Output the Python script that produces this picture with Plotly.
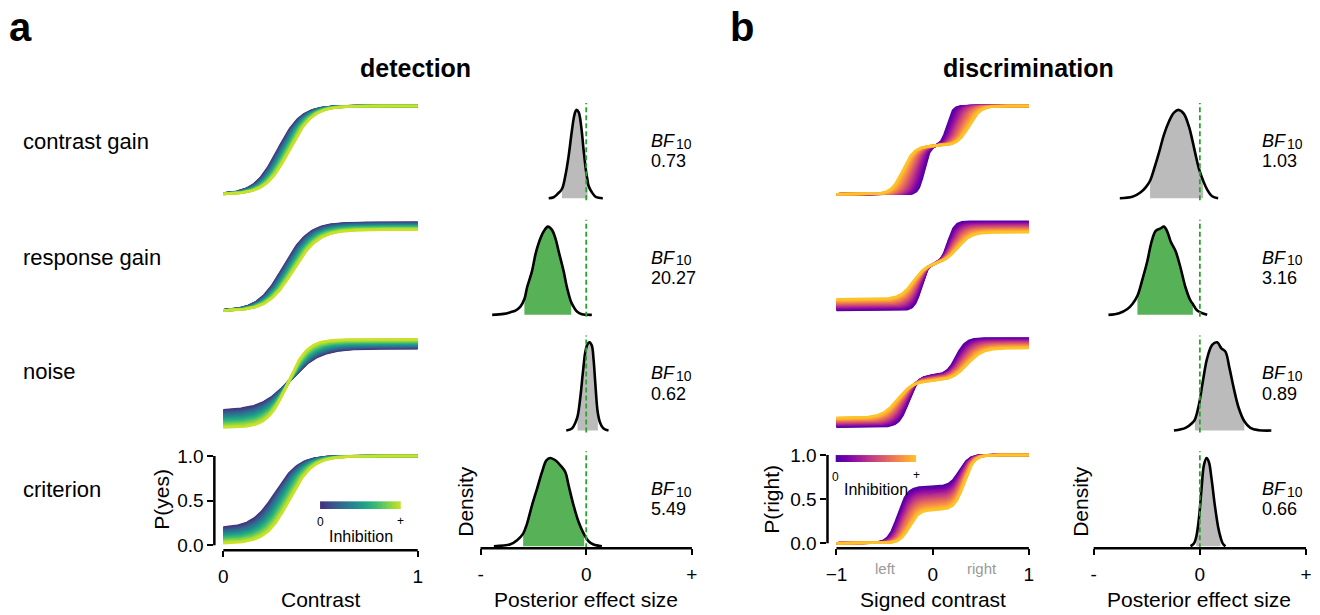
import numpy as np
import plotly.graph_objects as go
from plotly.colors import sample_colorscale

W, H = 1320, 615
FONT = "Liberation Sans, Arial, Helvetica, sans-serif"

# ---------------- data ----------------
ROW_LABELS = ["contrast gain", "response gain", "noise", "criterion"]
N_LEVELS = 25

# Detection psychometric curves: (inhibition 0, inhibition max) per row
DET_LO = [(0.00, 0.00), (0.00, 0.00), (0.20, 0.01), (0.19, 0.02)]
DET_HI = [(0.99, 0.99), (0.99, 0.91), (0.90, 1.00), (1.00, 1.00)]
DET_MU = [(0.28, 0.34), (0.31, 0.36), (0.345, 0.33), (0.27, 0.34)]
DET_SL = [(0.06, 0.06), (0.065, 0.065), (0.075, 0.05), (0.06, 0.06)]

# Discrimination psychometric curves
DIS_LO = [(0.0, 0.0), (0.0, 0.12), (0.0, 0.10), (0.0, 0.0)]
DIS_PL = [(0.55, 0.55), (0.53, 0.53), (0.58, 0.52), (0.64, 0.38)]
DIS_HI = [(1.0, 1.0), (1.0, 0.88), (1.0, 0.89), (1.0, 1.0)]
DIS_ML = [(0.09, 0.31), (0.12, 0.20), (0.25, 0.365), (0.36, 0.24)]
DIS_MR = [(0.15, 0.38), (0.16, 0.26), (0.245, 0.36), (0.28, 0.33)]
DIS_SL = [(0.03, 0.06), (0.035, 0.07), (0.05, 0.08), (0.05, 0.05)]

# Posterior densities (x = effect size, y = relative density)
DET_DX = [
    [-0.355, -0.308, -0.271, -0.230, -0.198, -0.167, -0.135, -0.113, -0.094, -0.072, -0.047, -0.025, 0.0, 0.013, 0.022, 0.053, 0.094, 0.157],
    [-0.890, -0.780, -0.717, -0.670, -0.623, -0.585, -0.560, -0.513, -0.481, -0.450, -0.403, -0.362, -0.324, -0.292, -0.261, -0.214, -0.182, -0.142, -0.120, -0.088, -0.041, 0.053],
    [-0.189, -0.135, -0.104, -0.082, -0.057, -0.031, -0.009, 0.013, 0.031, 0.053, 0.069, 0.085, 0.101, 0.110, 0.132, 0.164, 0.211],
    [-0.874, -0.717, -0.654, -0.597, -0.560, -0.513, -0.465, -0.418, -0.377, -0.340, -0.292, -0.245, -0.198, -0.167, -0.120, -0.072, -0.019, 0.022, 0.069, 0.148],
]
DET_DY = [
    [0, 0.011, 0.048, 0.104, 0.252, 0.474, 0.77, 0.937, 1.0, 0.974, 0.807, 0.548, 0.289, 0.20, 0.141, 0.067, 0.011, 0.0],
    [0, 0.011, 0.03, 0.049, 0.093, 0.179, 0.31, 0.496, 0.683, 0.813, 0.944, 1.0, 0.963, 0.869, 0.72, 0.496, 0.31, 0.142, 0.093, 0.037, 0.007, 0.0],
    [0, 0.022, 0.086, 0.16, 0.366, 0.664, 0.888, 0.981, 1.0, 0.963, 0.813, 0.552, 0.291, 0.198, 0.086, 0.022, 0.0],
    [0, 0.023, 0.068, 0.143, 0.257, 0.464, 0.653, 0.842, 0.974, 1.0, 0.974, 0.917, 0.842, 0.691, 0.464, 0.275, 0.132, 0.057, 0.019, 0.0],
]
DET_HDI = [(3, 13), (5, 17), (3, 13), (3, 16)]
DET_SIG = [False, True, False, True]
DET_BF = ["0.73", "20.27", "0.62", "5.49"]

DIS_DX = [
    [-0.754, -0.635, -0.557, -0.510, -0.469, -0.432, -0.385, -0.338, -0.291, -0.244, -0.197, -0.150, -0.103, -0.072, -0.041, -0.009, 0.031, 0.069, 0.116, 0.172],
    [-0.861, -0.761, -0.682, -0.635, -0.588, -0.541, -0.495, -0.454, -0.416, -0.369, -0.338, -0.307, -0.275, -0.228, -0.182, -0.135, -0.088, -0.066, -0.025, 0.069],
    [-0.244, -0.135, -0.072, -0.047, -0.009, 0.028, 0.069, 0.116, 0.163, 0.203, 0.241, 0.279, 0.319, 0.366, 0.419, 0.476, 0.554, 0.673],
    [-0.088, -0.056, -0.034, -0.009, 0.016, 0.038, 0.063, 0.085, 0.110, 0.141, 0.172, 0.194, 0.216, 0.241],
]
DIS_DY = [
    [0, 0.015, 0.067, 0.123, 0.198, 0.328, 0.515, 0.720, 0.869, 0.970, 1.0, 0.955, 0.813, 0.664, 0.496, 0.336, 0.198, 0.097, 0.022, 0.0],
    [0, 0.019, 0.067, 0.123, 0.216, 0.403, 0.608, 0.832, 0.951, 0.981, 1.0, 0.944, 0.832, 0.72, 0.534, 0.31, 0.160, 0.123, 0.049, 0.0],
    [0, 0.03, 0.086, 0.124, 0.293, 0.556, 0.82, 0.97, 1.0, 0.932, 0.895, 0.707, 0.481, 0.256, 0.105, 0.03, 0.004, 0.0],
    [0, 0.03, 0.106, 0.313, 0.653, 0.917, 1.0, 0.955, 0.766, 0.464, 0.219, 0.106, 0.03, 0.0],
]
DIS_HDI = [(4, 16), (4, 17), (3, 14), (2, 11)]
DIS_SIG = [False, True, False, False]
DIS_BF = ["1.03", "3.16", "0.89", "0.66"]

DET_CMAP = ("Viridis", 0.14, 0.92)
DIS_CMAP = ("Plasma", 0.13, 0.87)

# ---------------- geometry (pixels) ----------------
DET_Z = [192, 311, 431, 550]
DIS_Z = [192, 310, 429, 548]
DENS_B = [196, 315, 433, 551]

layout = dict(width=W, height=H, margin=dict(l=0, r=0, t=0, b=0),
              plot_bgcolor="white", paper_bgcolor="white", showlegend=False,
              font=dict(family=FONT, color="black"))
traces, shapes, annotations = [], [], []
axn = [0]


def new_axes(xd, yd, xr, yr):
    axn[0] += 1
    k = axn[0]
    s = "" if k == 1 else str(k)
    base = dict(showgrid=False, zeroline=False, showline=False, ticks="",
                showticklabels=False, fixedrange=True)
    layout["xaxis" + s] = dict(base, domain=[xd[0] / W, xd[1] / W], range=list(xr), anchor="y" + s)
    layout["yaxis" + s] = dict(base, domain=[1 - yd[1] / H, 1 - yd[0] / H], range=list(yr), anchor="x" + s)
    return s


TICK = dict(ticks="outside", ticklen=6, tickwidth=2, tickcolor="black", showticklabels=True,
            tickfont=dict(size=19, family=FONT, color="black"))
XTICK = dict(TICK, ticklabelstandoff=3)


def hspine(s, x0, x1):
    shapes.append(dict(type="line", xref="x" + s, yref="y" + s + " domain", x0=x0, x1=x1, y0=0, y1=0,
                       line=dict(color="black", width=2.5)))


def vspine(s, y0, y1):
    shapes.append(dict(type="line", xref="x" + s + " domain", yref="y" + s, x0=0, x1=0, y0=y0, y1=y1,
                       line=dict(color="black", width=2.5)))


def text(x, y, t, size, xanchor="center", yanchor="middle", angle=0, color="black",
         weight="normal", style="normal", height=None):
    a = dict(xref="paper", yref="paper", x=x / W, y=1 - y / H, text=t, showarrow=False,
             xanchor=xanchor, yanchor=yanchor, textangle=angle,
             font=dict(size=size, family=FONT, color=color, weight=weight, style=style))
    if height is not None:
        a["height"] = height
    annotations.append(a)


def bf_label(x, y_bf, y_val, value):
    text(x, y_bf, "BF", 18, xanchor="left", style="italic", height=15)
    text(x + 25, y_bf + 3, "10", 14, xanchor="left", height=11)
    text(x, y_val, value, 18, xanchor="left", height=15)


def logistic(z):
    return 1.0 / (1.0 + np.exp(-z))


def level_colors(cm):
    name, a, b = cm
    return sample_colorscale(name, list(np.linspace(a, b, N_LEVELS)))


def lerp(pair, t):
    return pair[0] + (pair[1] - pair[0]) * t


def density_panel(s, xs, ys, hdi, sig):
    i0, i1 = hdi
    fill = "#57b257" if sig else "#bbbbbb"
    traces.append(go.Scatter(x=xs[i0:i1 + 1], y=ys[i0:i1 + 1], mode="lines", fill="tozeroy",
                             fillcolor=fill, line=dict(width=0, shape="spline"),
                             xaxis="x" + s, yaxis="y" + s, hoverinfo="skip"))
    traces.append(go.Scatter(x=xs, y=ys, mode="lines", line=dict(color="black", width=2.6, shape="spline"),
                             xaxis="x" + s, yaxis="y" + s, hoverinfo="skip"))
    shapes.append(dict(type="line", xref="x" + s, yref="y" + s + " domain", x0=0, x1=0, y0=0, y1=1,
                       line=dict(color="#2ca02c", width=1.8, dash="5px,3px")))


det_cols = level_colors(DET_CMAP)
dis_cols = level_colors(DIS_CMAP)
xdet = np.linspace(0, 1, 201)
xdis = np.linspace(-1, 1, 401)

for r in range(4):
    # ---- detection psychometric ----
    z = DET_Z[r]
    s = new_axes((213, 420), (z - 95, z + 5), (-9 / 195, 1 + 3 / 195), (-5 / 91, 1 + 4 / 91))
    for i in range(N_LEVELS):
        t = i / (N_LEVELS - 1)
        lo, hi = lerp(DET_LO[r], t), lerp(DET_HI[r], t)
        mu, sl = lerp(DET_MU[r], t), lerp(DET_SL[r], t)
        p = lo + (hi - lo) * logistic((xdet - mu) / sl)
        traces.append(go.Scatter(x=xdet, y=p, mode="lines", line=dict(color=det_cols[i], width=2.5),
                                 xaxis="x" + s, yaxis="y" + s, hoverinfo="skip"))
    if r == 3:
        layout["xaxis" + s].update(XTICK, tickvals=[0, 1], ticktext=["0", "1"])
        layout["yaxis" + s].update(TICK, tickvals=[0, 0.5, 1], ticktext=["0.0", "0.5", "1.0"])
        hspine(s, 0, 1)
        vspine(s, 0, 1)

    # ---- detection density ----
    b = DENS_B[r]
    s = new_axes((476, 696), (b - 97, b + 2), (-1 - 4 / 106, -1 + 216 / 106), (-2 / 90, 97 / 90))
    density_panel(s, DET_DX[r], DET_DY[r], DET_HDI[r], DET_SIG[r])
    if r == 3:
        layout["xaxis" + s].update(XTICK, tickvals=[-1, 0, 1], ticktext=["-", "0", "+"])
        hspine(s, -1, 1)

    # ---- discrimination psychometric ----
    z = DIS_Z[r]
    s = new_axes((828, 1033), (z - 94, z + 5), (-1 - 9 / 96.5, -1 + 196 / 96.5), (-5 / 90, 1 + 4 / 90))
    for i in range(N_LEVELS):
        t = i / (N_LEVELS - 1)
        lo, pl, hi = lerp(DIS_LO[r], t), lerp(DIS_PL[r], t), lerp(DIS_HI[r], t)
        ml, mr, sl = lerp(DIS_ML[r], t), lerp(DIS_MR[r], t), lerp(DIS_SL[r], t)
        p = lo + (pl - lo) * logistic((xdis + ml) / sl) + (hi - pl) * logistic((xdis - mr) / sl)
        traces.append(go.Scatter(x=xdis, y=p, mode="lines", line=dict(color=dis_cols[i], width=2.5),
                                 xaxis="x" + s, yaxis="y" + s, hoverinfo="skip"))
    if r == 3:
        layout["xaxis" + s].update(XTICK, tickvals=[-1, 0, 1], ticktext=["\u22121", "0", "1"])
        layout["yaxis" + s].update(TICK, tickvals=[0, 0.5, 1], ticktext=["0.0", "0.5", "1.0"])
        hspine(s, -1, 1)
        vspine(s, 0, 1)

    # ---- discrimination density ----
    s = new_axes((1091, 1312), (b - 97, b + 2), (-1 - 4 / 106.5, -1 + 217 / 106.5), (-2 / 90, 97 / 90))
    density_panel(s, DIS_DX[r], DIS_DY[r], DIS_HDI[r], DIS_SIG[r])
    if r == 3:
        layout["xaxis" + s].update(XTICK, tickvals=[-1, 0, 1], ticktext=["-", "0", "+"])
        hspine(s, -1, 1)

    # ---- texts ----
    yc = [138, 256, 373, 493][r]
    text(19, yc, ROW_LABELS[r], 22, xanchor="left")
    bfy = [137, 256, 374, 492][r]
    vy = [158, 277, 395, 513][r]
    bf_label(649, bfy, vy, DET_BF[r])
    bf_label(1262, bfy, vy, DIS_BF[r])


# ---- inset colour bars ----
def colorbar(xd, yd, cm):
    s = new_axes(xd, yd, (-0.5, 63.5), (-0.5, 0.5))
    name, a, b = cm
    cols = sample_colorscale(name, list(np.linspace(a, b, 16)))
    cs = [[i / 15, c] for i, c in enumerate(cols)]
    traces.append(go.Heatmap(z=[list(np.linspace(0, 1, 64))], x=list(range(64)), y=[0], colorscale=cs,
                             zmin=0, zmax=1, showscale=False, xaxis="x" + s, yaxis="y" + s, hoverinfo="skip"))


colorbar((319, 400), (505, 513), DET_CMAP)
text(319, 526, "0", 12)
text(400, 525, "+", 12)
text(360, 541, "Inhibition", 16)
colorbar((836, 917), (458, 465), DIS_CMAP)
text(836, 480, "0", 12)
text(917, 478, "+", 12)
text(877, 493, "Inhibition", 16)

# ---- axis titles ----
text(320, 605, "Contrast", 21)
text(160, 503, "P(yes)", 21, angle=-90)
text(586, 605, "Posterior effect size", 21)
text(465, 505, "Density", 21, angle=-90)
text(934, 605, "Signed contrast", 21)
text(772, 503, "P(right)", 21, angle=-90)
text(1201, 605, "Posterior effect size", 21)
text(1081, 505, "Density", 21, angle=-90)
text(886, 574, "left", 15, color="#999999")
text(983, 574, "right", 15, color="#999999")

# ---- titles and panel letters ----
text(415, 63, "detection", 25, weight="bold")
text(1030, 63, "discrimination", 25, weight="bold")
text(19, 21, "a", 40, weight="bold")
text(742, 21, "b", 40, weight="bold")

layout["shapes"] = shapes
layout["annotations"] = annotations
fig = go.Figure(data=traces, layout=layout)
fig.write_html("out.html", config={"displayModeBar": False},
               post_script="document.body.style.margin='0';document.body.style.overflow='hidden';")
